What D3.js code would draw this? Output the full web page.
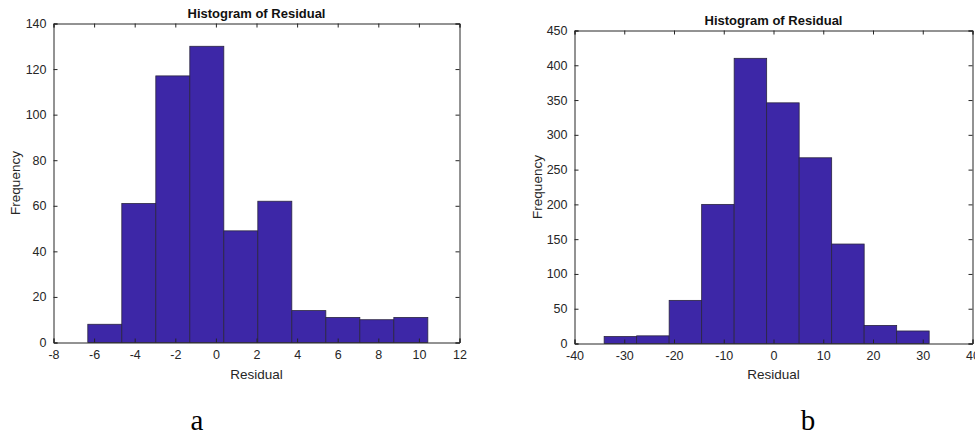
<!DOCTYPE html>
<html><head><meta charset="utf-8">
<script src="https://cdn.jsdelivr.net/npm/d3@7"></script>
<style>body{margin:0;background:#fff}svg{display:block}</style>
</head><body>
<svg id="c" width="975" height="435"></svg>
<script>
// Panel a
const aStart = -6.31, aWidth = 1.675;
const aCounts = [8, 61, 117, 130, 49, 62, 14, 11, 10, 11];
const aXTicks = [-8, -6, -4, -2, 0, 2, 4, 6, 8, 10, 12];
const aYTicks = [0, 20, 40, 60, 80, 100, 120, 140];
// Panel b
const bStart = -34.04, bWidth = 6.533;
const bCounts = [10, 11, 62, 200, 410, 346, 267, 143, 26, 18];
const bXTicks = [-40, -30, -20, -10, 0, 10, 20, 30, 40];
const bYTicks = [0, 50, 100, 150, 200, 250, 300, 350, 400, 450];

const svg = d3.select("#c");
const font = "'Liberation Sans', Arial, sans-serif";
const ink = "#262626";
const fmt = d => String(d);

function panel(o) {
  const x = d3.scaleLinear().domain(o.xDomain).range([o.left, o.right]);
  const y = d3.scaleLinear().domain(o.yDomain).range([o.bottom, o.top]);
  const g = svg.append("g");
  const bins = o.counts.map((c, i) => ({x0: o.start + i * o.width, x1: o.start + (i + 1) * o.width, c}));
  g.selectAll("rect.bar").data(bins).join("rect")
    .attr("class", "bar")
    .attr("x", d => x(d.x0)).attr("width", d => x(d.x1) - x(d.x0))
    .attr("y", d => y(d.c)).attr("height", d => y(0) - y(d.c))
    .attr("fill", "#3d27a7").attr("stroke", "#2a2540").attr("stroke-width", 0.8);
  const tl = 4;
  const xb = g.append("g").attr("transform", `translate(0,${o.bottom})`)
    .call(d3.axisBottom(x).tickValues(o.xTicks).tickSize(-tl).tickPadding(8).tickFormat(fmt));
  const xt = g.append("g").attr("transform", `translate(0,${o.top})`)
    .call(d3.axisTop(x).tickValues(o.xTicks).tickSize(-tl).tickFormat(""));
  const yl = g.append("g").attr("transform", `translate(${o.left},0)`)
    .call(d3.axisLeft(y).tickValues(o.yTicks).tickSize(-tl).tickPadding(7).tickFormat(fmt));
  const yr = g.append("g").attr("transform", `translate(${o.right},0)`)
    .call(d3.axisRight(y).tickValues(o.yTicks).tickSize(-tl).tickFormat(""));
  [xb, xt, yl, yr].forEach(a => {
    a.select(".domain").attr("stroke", ink).attr("stroke-width", 1);
    a.selectAll(".tick line").attr("stroke", ink);
    a.selectAll("text").attr("fill", ink).style("font-family", font).style("font-size", "12.5px");
  });
  g.append("text").attr("x", (o.left + o.right) / 2).attr("y", o.top - 6)
    .attr("text-anchor", "middle").style("font-family", font).style("font-size", "13px")
    .style("font-weight", "bold").attr("fill", "#111").text("Histogram of Residual");
  g.append("text").attr("x", (o.left + o.right) / 2).attr("y", 379)
    .attr("text-anchor", "middle").style("font-family", font).style("font-size", "13.5px")
    .attr("fill", ink).text("Residual");
  g.append("text").attr("transform", `translate(${o.ylabX},${(o.top + o.bottom) / 2}) rotate(-90)`)
    .attr("text-anchor", "middle").style("font-family", font).style("font-size", "13.5px")
    .attr("fill", ink).text("Frequency");
  g.append("text").attr("x", o.capX).attr("y", 430)
    .attr("text-anchor", "middle").style("font-family", "'Liberation Serif', 'Times New Roman', serif")
    .style("font-size", "29px").attr("fill", "#000").text(o.cap);
}

panel({left: 53.5, right: 459.5, top: 23.5, bottom: 342.5, xDomain: [-8, 12], yDomain: [0, 140],
  start: aStart, width: aWidth, counts: aCounts, xTicks: aXTicks, yTicks: aYTicks, ylabX: 19.5, capX: 197, cap: "a"});
panel({left: 574.5, right: 972.5, top: 30.5, bottom: 343.5, xDomain: [-40, 40], yDomain: [0, 450],
  start: bStart, width: bWidth, counts: bCounts, xTicks: bXTicks, yTicks: bYTicks, ylabX: 541.5, capX: 808, cap: "b"});
</script>
</body></html>
